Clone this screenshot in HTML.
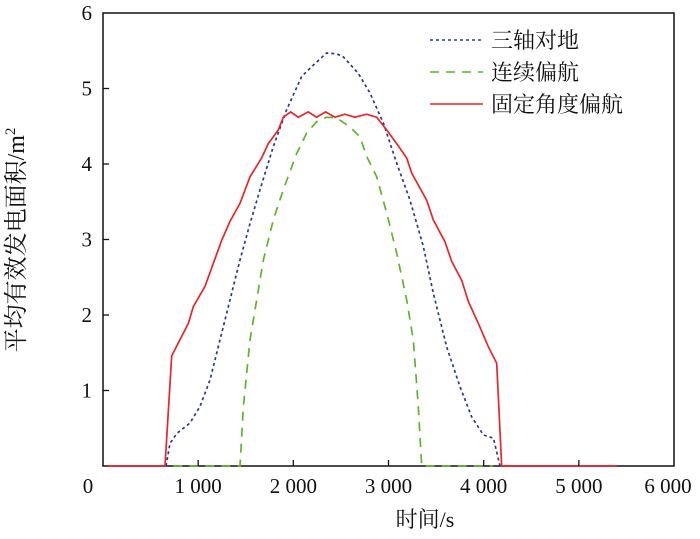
<!DOCTYPE html>
<html><head><meta charset="utf-8"><style>
html,body{margin:0;padding:0;background:#fff;}
svg text{font-family:"Liberation Serif","Noto Serif CJK SC",serif;fill:#111;}
</style></head><body>
<svg id="chart" width="700" height="534" xmlns="http://www.w3.org/2000/svg">
<g id="marks"></g>
</svg>
<script>
const xTicks = [0,1000,2000,3000,4000,5000,6000];
const xTickLabels = ["0","1 000","2 000","3 000","4 000","5 000","6 000"];
const yTicks = [0,1,2,3,4,5,6];
const yTickLabels = ["","1","2","3","4","5","6"];
const seriesNames = ["三轴对地","连续偏航","固定角度偏航"];
const blueT = [662,704,774,914,1019,1124,1229,1334,1440,1545,1650,1790,1930,2088,2210,2350,2455,2525,2683,2806,2946,3086,3226,3366,3471,3611,3751,3874,3997,4102,4172];
const blueV = [0,0.30,0.43,0.57,0.79,1.14,1.67,2.20,2.73,3.21,3.66,4.23,4.72,5.16,5.31,5.47,5.46,5.42,5.20,4.94,4.54,4.01,3.52,2.91,2.29,1.58,1.05,0.65,0.41,0.37,0];
const greenT = [740,1440,1475,1545,1615,1685,1790,1895,2035,2140,2245,2350,2455,2595,2700,2771,2876,2981,3086,3191,3261,3313,3349,4100];
const greenV = [0,0,0.79,1.67,2.20,2.73,3.26,3.66,4.14,4.41,4.56,4.62,4.61,4.49,4.36,4.10,3.83,3.35,2.82,2.20,1.67,0.79,0,0];
const redT = [50,651,722,897,949,1072,1247,1334,1440,1545,1667,1737,1842,1895,1972,2052,2157,2245,2339,2437,2542,2647,2770,2876,2981,3086,3191,3244,3401,3471,3594,3664,3769,3839,3944,4049,4137,4189,5400];
const redV = [0,0,1.46,1.89,2.11,2.38,2.99,3.24,3.48,3.83,4.08,4.27,4.45,4.62,4.69,4.62,4.69,4.62,4.69,4.62,4.66,4.62,4.66,4.62,4.45,4.27,4.08,3.88,3.52,3.26,2.97,2.71,2.46,2.18,1.89,1.58,1.36,0,0];

const L=103,R=674,T=13,B=466;
const xs=t=>L+(t/6000)*(R-L);
const ys=v=>B-(v/6)*(B-T);
const NS="http://www.w3.org/2000/svg";
const g=document.getElementById('marks');
function mk(tag,attrs){const e=document.createElementNS(NS,tag);for(const k in attrs)e.setAttribute(k,attrs[k]);g.appendChild(e);return e;}

const fr=mk('rect',{x:L,y:T,width:R-L,height:B-T,fill:'none',stroke:'#111','stroke-width':1.5});



function series(ts,vs,color,dash,name){
  const d=ts.map((t,i)=>(i?'L':'M')+xs(t).toFixed(1)+','+ys(vs[i]).toFixed(1)).join('');
  const p=mk('path',{d:d,fill:'none',stroke:color,'stroke-width':1.7});
  if(dash)p.setAttribute('stroke-dasharray',dash);
  
  
}
series(greenT,greenV,'#5fb52a','9,7','series-continuous-yaw');
series(blueT,blueV,'#2b3a8c','3,3','series-three-axis');
series(redT,redV,'#e8262a','','series-fixed-angle-yaw');

xTicks.forEach((t,i)=>{
  if(i>0&&i<xTicks.length-1){const tk=mk('line',{x1:xs(t),x2:xs(t),y1:B,y2:B-6,stroke:'#111','stroke-width':1.3});
  
  }
  let x=xs(t); if(i===0)x=88; if(i===xTicks.length-1)x=668;
  const tx=mk('text',{x:x,y:493,'text-anchor':'middle','font-size':21});
  tx.textContent=xTickLabels[i];
  
  
});
yTicks.forEach((v,i)=>{
  if(i>0&&i<yTicks.length-1){const tk=mk('line',{x1:L,x2:L+6,y1:ys(v),y2:ys(v),stroke:'#111','stroke-width':1.3});
  
  }
  const tx=mk('text',{x:92,y:ys(v)+7,'text-anchor':'end','font-size':21});
  tx.textContent=yTickLabels[i];
  
  
});

const xt=mk('text',{x:425,y:527,'text-anchor':'middle','font-size':22});
xt.textContent='时间/s';


const yt=mk('text',{x:0,y:0,'text-anchor':'middle','font-size':24,transform:'translate(24,240) rotate(-90)'});
yt.innerHTML='平均有效发电面积/m<tspan font-size="15" dy="-9">2</tspan>';



const legY=[40,72,104];
const legC=['#2b3a8c','#5fb52a','#e8262a'];
const legD=['3,3','9,7',''];
seriesNames.forEach((n,i)=>{
  const ln=mk('line',{x1:430,x2:483,y1:legY[i],y2:legY[i],stroke:legC[i],'stroke-width':1.6});
  if(legD[i])ln.setAttribute('stroke-dasharray',legD[i]);
  
  
  const tx=mk('text',{x:491,y:legY[i]+8,'font-size':22});
  tx.textContent=n;
  
  
});
</script>
</body></html>
